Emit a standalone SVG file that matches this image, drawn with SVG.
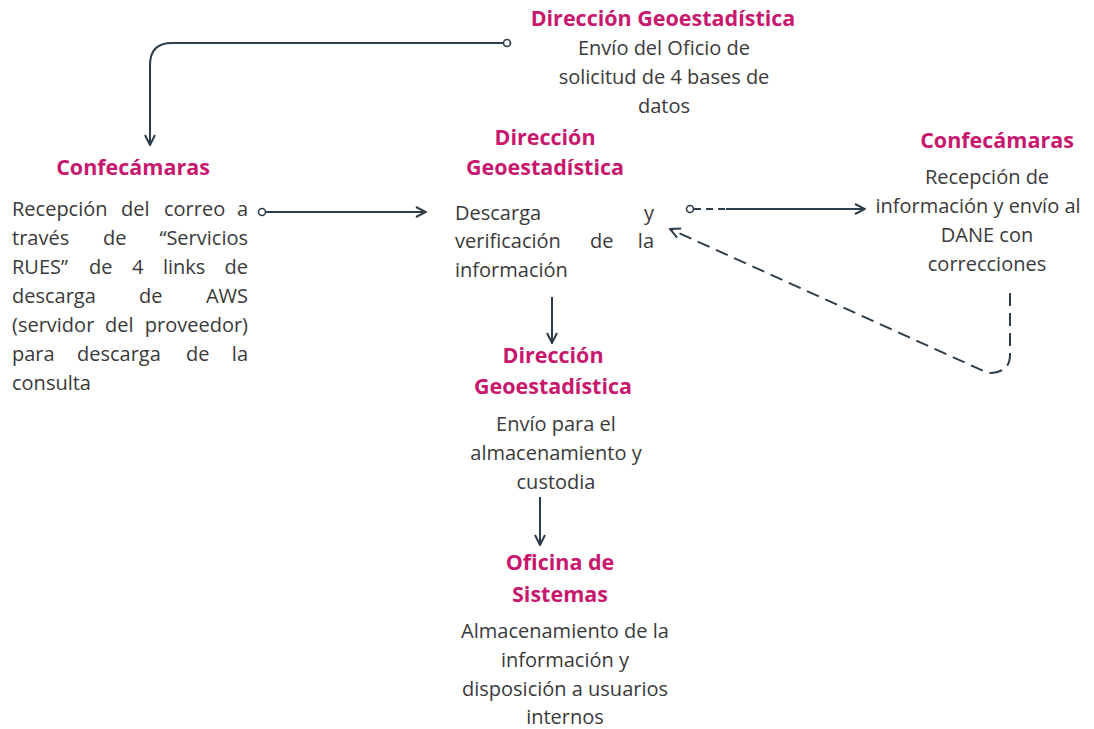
<svg xmlns="http://www.w3.org/2000/svg" width="1094" height="729" viewBox="0 0 1094 729">
<style>
.t{font-family:"Open Sans","Noto Sans",sans-serif;font-weight:700;font-size:21.5px;fill:#C8186E;text-anchor:middle}
.b{font-family:"Open Sans","Noto Sans",sans-serif;font-size:20px;fill:#3A3A3A}
.c{text-anchor:middle}
.ln{fill:none;stroke:#2E3D4C;stroke-width:2}
.dash{stroke-dasharray:13 7}
</style>
<defs>
<marker id="ah" viewBox="0 0 12 12" refX="11" refY="6" markerWidth="12" markerHeight="12" markerUnits="userSpaceOnUse" orient="auto">
<path d="M1,1 L11,6 L1,11" fill="none" stroke="#2E3D4C" stroke-width="2"/>
</marker>
</defs>
<rect width="1094" height="729" fill="#fff"/>
<g id="connectors">
<path class="ln" d="M503,43 H172 Q150,43 150,65 V145" marker-end="url(#ah)"/>
<circle cx="507" cy="43" r="3.5" fill="#fff" stroke="#2E3D4C" stroke-width="1.6"/>
<path class="ln" d="M266,212 H426" marker-end="url(#ah)"/>
<circle cx="262" cy="212" r="3.5" fill="#fff" stroke="#2E3D4C" stroke-width="1.6"/>
<path class="ln" d="M694,209 H725" stroke-dasharray="7 5"/>
<path class="ln" d="M726,209 H865" marker-end="url(#ah)"/>
<circle cx="690" cy="209" r="3.5" fill="#fff" stroke="#2E3D4C" stroke-width="1.6"/>
<path class="ln dash" d="M1010,293 V355 Q1010,373 988,373 L670,229" marker-end="url(#ah)"/>
<path class="ln" d="M552,297 V343" marker-end="url(#ah)"/>
<path class="ln" d="M540,497 V545" marker-end="url(#ah)"/>
</g>
<g id="n-top">
<text class="t" x="663" y="26">Dirección Geoestadística</text>
<text class="b c" x="664" y="55">Envío del Oficio de</text>
<text class="b c" x="664" y="84">solicitud de 4 bases de</text>
<text class="b c" x="664" y="113">datos</text>
</g>
<g id="n-left">
<text class="t" x="133" y="175">Confecámaras</text>
<text class="b" y="216"><tspan x="12">Recepción</tspan><tspan x="121">del</tspan><tspan x="164">correo</tspan><tspan x="248" text-anchor="end">a</tspan></text>
<text class="b" y="245"><tspan x="12">través</tspan><tspan x="103">de</tspan><tspan x="248" text-anchor="end">“Servicios</tspan></text>
<text class="b" y="274"><tspan x="12">RUES”</tspan><tspan x="89">de</tspan><tspan x="132">4</tspan><tspan x="163">links</tspan><tspan x="248" text-anchor="end">de</tspan></text>
<text class="b" y="303"><tspan x="12">descarga</tspan><tspan x="139">de</tspan><tspan x="248" text-anchor="end">AWS</tspan></text>
<text class="b" y="332"><tspan x="12">(servidor</tspan><tspan x="105">del</tspan><tspan x="248" text-anchor="end">proveedor)</tspan></text>
<text class="b" y="361"><tspan x="12">para</tspan><tspan x="77">descarga</tspan><tspan x="186">de</tspan><tspan x="248" text-anchor="end">la</tspan></text>
<text class="b" y="390"><tspan x="12">consulta</tspan></text>
</g>
<g id="n-mid">
<text class="t" x="545" y="145">Dirección</text>
<text class="t" x="545" y="175">Geoestadística</text>
<text class="b" y="220"><tspan x="455">Descarga</tspan><tspan x="654" text-anchor="end">y</tspan></text>
<text class="b" y="248"><tspan x="455">verificación</tspan><tspan x="590">de</tspan><tspan x="654" text-anchor="end">la</tspan></text>
<text class="b" y="277"><tspan x="455">información</tspan></text>
</g>
<g id="n-right">
<text class="t" x="997" y="148">Confecámaras</text>
<text class="b c" x="987" y="184">Recepción de</text>
<text class="b c" x="978" y="213">información y envío al</text>
<text class="b c" x="987" y="242">DANE con</text>
<text class="b c" x="987" y="271">correcciones</text>
</g>
<g id="n-store">
<text class="t" x="553" y="363">Dirección</text>
<text class="t" x="553" y="394">Geoestadística</text>
<text class="b c" x="556" y="431">Envío para el</text>
<text class="b c" x="556" y="460">almacenamiento y</text>
<text class="b c" x="556" y="489">custodia</text>
</g>
<g id="n-sys">
<text class="t" x="560" y="570">Oficina de</text>
<text class="t" x="560" y="602">Sistemas</text>
<text class="b c" x="565" y="638">Almacenamiento de la</text>
<text class="b c" x="565" y="667">información y</text>
<text class="b c" x="565" y="696">disposición a usuarios</text>
<text class="b c" x="565" y="724">internos</text>
</g>
</svg>
